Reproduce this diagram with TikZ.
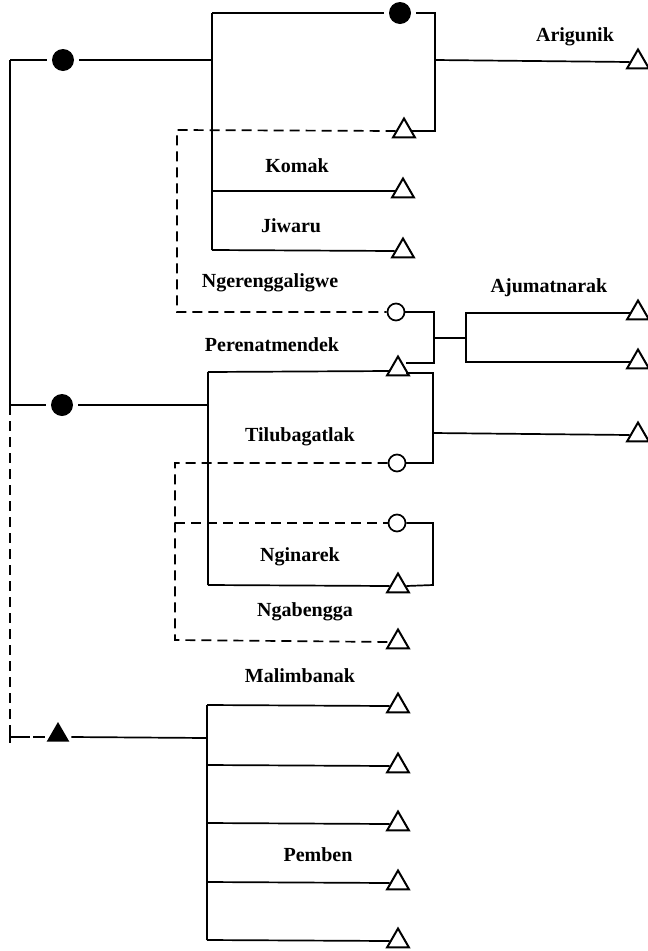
\documentclass[tikz,border=0pt]{standalone}
\usepackage{fontspec}
\setmainfont{Liberation Serif}
\usetikzlibrary{shapes.geometric}
\begin{document}
\begin{tikzpicture}[x=1pt,y=-1pt,line width=1.7pt,
  fdot/.style={circle,fill=black,inner sep=0pt,minimum size=22pt,outer sep=5pt},
  odot/.style={circle,draw,inner sep=0pt,minimum size=17pt,line width=1.7pt},
  otri/.style={regular polygon,regular polygon sides=3,draw,inner sep=0pt,minimum size=25pt,line width=2pt},
  ftri/.style={regular polygon,regular polygon sides=3,fill=black,inner sep=0pt,minimum size=26pt,outer sep=5pt},
  dsh/.style={dash pattern=on 10pt off 6pt},
  lbl/.style={font=\bfseries\fontsize{20}{22}\selectfont,inner sep=0pt}]
\useasboundingbox (0,0) rectangle (648,951);
% ---- group 1
\coordinate (L1) at (10,60);
\coordinate (L2) at (10,405);
\coordinate (L3) at (10,737);
\node[fdot] (d1) at (63,60) {};
\coordinate (jA) at (212,60);
\coordinate (jAt) at (212,13);
\coordinate (jAb) at (212,250);
\node[fdot,outer sep=5pt] (d2) at (400,13) {};
\node[otri] (t1) at (404,131) {};
\node[otri] (tk) at (403,191) {};
\node[otri] (tj) at (403,251) {};
\node[otri] (ta) at (638,62) {};
\coordinate (bA) at (435,60);
\draw (L1) -- (d1) -- (jA);
\draw (jAt) -- (jAb);
\draw (jAt) -- (d2);
\draw (d2.east) -| (bA) |- (t1.east);
\draw (bA) -- (ta.west);
\draw (jA |- tk.west) -- (tk.west);
\draw (jAb) -- (tj.west);
\node[lbl] at (575,37) {Arigunik};
\node[lbl] at (297,166) {Komak};
\node[lbl] at (291,226) {Jiwaru};
\node[lbl] at (270,283) {Ngerenggaligwe};
% dashed loop to Ngerenggaligwe
\node[odot] (c1) at (396,312) {};
\coordinate (dA) at (177,130);
\draw[dsh] (t1.west) -- (dA) |- (c1.west);
% Perenatmendek
\node[otri] (tp) at (398,369) {};
\coordinate (bB) at (434,338);
\draw (c1.east) -| (434,363) -- ([yshift=6pt]tp.east);
\draw (bB) -- (466,338);
\node[otri] (taj1) at (638,313) {};
\node[otri] (taj2) at (638,362) {};
\draw (taj1.west) -| (466,338) |- (taj2.west);
\node[lbl] at (549,288) {Ajumatnarak};
\node[lbl] at (272,345) {Perenatmendek};
% ---- group 2
\node[fdot] (d3) at (62,405) {};
\coordinate (jB) at (208,405);
\draw (L1) -- (L2) -- (d3) -- (jB);
\draw (208,372) -- (208,585);
\draw (208,372) -- ([yshift=-2pt]tp.west);
\node[odot] (c2) at (397,463) {};
\node[odot] (c3) at (397,523) {};
\node[otri] (tn) at (398,586) {};
\node[otri] (tg) at (398,642) {};
\node[otri] (tt) at (638,435) {};
\draw ([yshift=-4pt]tp.east) -| (433,463) -- (c2.east);
\draw (433,433) -- (tt.west);
\draw (c3.east) -| (433,585) -- (tn.east);
\draw (208,585) -- (tn.west);
\draw[dsh] (c2.west) -- (175,463) -- (175,640) -- (tg.west);
\draw[dsh] (175,523) -- (c3.west);
\node[lbl] at (300,437) {Tilubagatlak};
\node[lbl] at (300,557) {Nginarek};
\node[lbl] at (305,612) {Ngabengga};
% ---- group 3
\node[ftri] (d4) at (58,735) {};
\draw[dsh] (L2) -- (L3);
\draw[line width=1.2pt] (10,731) -- (10,743);
\draw[dash pattern=on 20pt off 3pt on 12pt off 20pt] (L3) -- (d4.west |- L3);
\draw (d4.east |- L3) -- (207,738);
\draw (207,705) -- (207,940);
\foreach \yy/\nm in {705/m1,765/m2,823/m3,882/m4,940/m5}{
  \node[otri] (\nm) at (398,\yy+1) {};
  \draw (207,\yy) -- (\nm.west);
}
\node[lbl] at (300,676) {Malimbanak};
\node[lbl] at (318,855) {Pemben};
\end{tikzpicture}
\end{document}
